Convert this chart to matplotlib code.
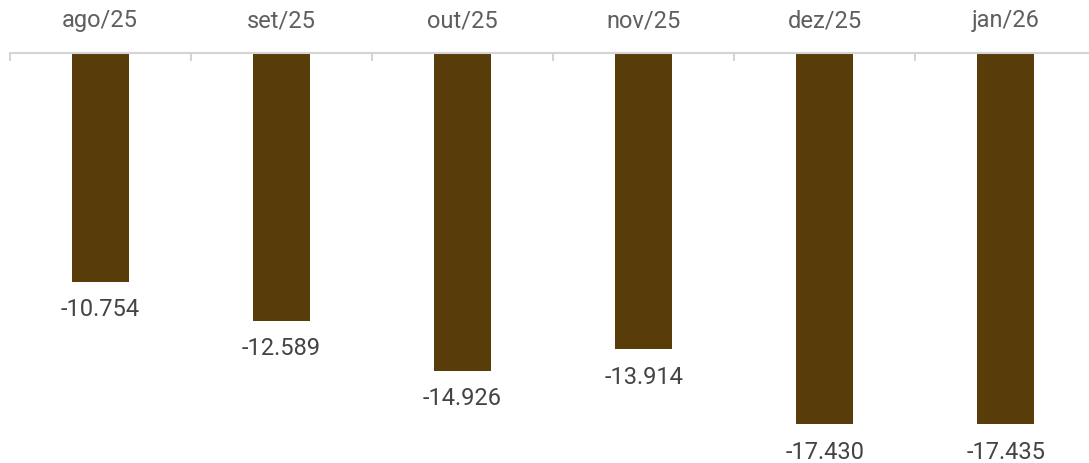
import matplotlib
matplotlib.use("Agg")
import matplotlib.pyplot as plt
import numpy as np

categories = ["ago/25", "set/25", "out/25", "nov/25", "dez/25", "jan/26"]
values = [-10754, -12589, -14926, -13914, -17430, -17435]

bar_color = "#583d0b"
label_color = "#444444"
tick_color = "#5f5f5f"
axis_color = "#d4d4d4"

plt.rcParams['font.family'] = ['Roboto', 'DejaVu Sans']

W, H = 1089, 463
fig = plt.figure(figsize=(W / 100, H / 100), dpi=100)
left_px, right_px = 9.5, 1096.5
top_px = 53
ax = fig.add_axes([left_px / W, 0, (right_px - left_px) / W, (H - top_px) / H])

x = np.arange(len(categories))
ax.bar(x, values, width=0.315, color=bar_color)

ax.set_xlim(-0.5, len(categories) - 0.5)
ax.set_ylim(-19250, 0)

for xi, v in zip(x, values):
    s = f"{v:,}".replace(",", ".")
    ax.annotate(s, (xi, v), xytext=(0, -20), textcoords="offset points",
                ha="center", va="center", fontsize=17, color=label_color)

for s in ["left", "right", "bottom"]:
    ax.spines[s].set_visible(False)
ax.spines["top"].set_color(axis_color)
ax.spines["top"].set_linewidth(1.5)

ax.xaxis.tick_top()
ax.set_xticks(x)
ax.set_xticklabels(categories, fontsize=17, color=tick_color)
ax.tick_params(axis="x", which="major", length=0, pad=15)
ax.set_xticks(np.arange(-0.5, len(categories) + 0.5, 1), minor=True)
ax.tick_params(axis="x", which="minor", direction="in", length=5.5, width=1.5, color=axis_color, top=True, bottom=False)
ax.set_yticks([])

fig.savefig("out.png", dpi=100)
